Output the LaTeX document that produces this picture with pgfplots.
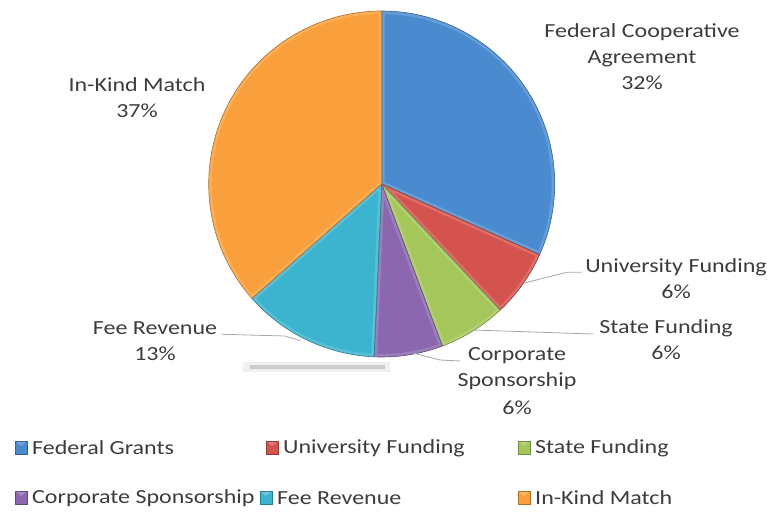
\documentclass[border=0pt]{standalone}
\usepackage{pgfplots}
\usepackage{pgfplotstable}
\pgfplotsset{compat=1.18}
\usepackage{fontspec}
\setmainfont{Carlito}[FakeStretch=1.2]
\definecolor{c0}{HTML}{4A8BD0}
\definecolor{c1}{HTML}{D4534E}
\definecolor{c2}{HTML}{A4C65A}
\definecolor{c3}{HTML}{8A67AE}
\definecolor{c4}{HTML}{3CB4CF}
\definecolor{c5}{HTML}{F9A03C}
\definecolor{txt}{HTML}{3C3C3C}
\definecolor{lead}{HTML}{A6A6A6}
\pgfplotstableread{
name value
Federal 31.7
University 6.3
State 6.3
Corporate 6.4
Fee 12.8
InKind 36.5
}\piedata
\newcommand\legitem[4]{%
  \fill[#1, draw=#1!70!black, line width=0.5pt] (axis cs:#2,#3-6.5) rectangle (axis cs:#2+12,#3+6.5);
  \fill[#1!60!white, opacity=0.6] (axis cs:#2+1,#3+6) -- (axis cs:#2+11,#3+6) -- (axis cs:#2+6,#3+2) -- cycle;
  \node[text=txt, anchor=west, inner sep=0pt, font=\fontsize{20}{24}\selectfont] at (axis cs:#2+17,#3) {#4};
}
\begin{document}
\begin{tikzpicture}
\begin{axis}[x=1pt,y=1pt,xmin=0,xmax=767,ymin=0,ymax=512,hide axis,clip=false,scale only axis]
\path[use as bounding box] (axis cs:0,0) rectangle (axis cs:767,512);
% shadow
\fill[gray!12] (axis cs:243,140) rectangle (axis cs:390,150);
\fill[gray!40] (axis cs:250,143) rectangle (axis cs:385,147);
% slices
\gdef\cum{90}
\pgfplotsforeachungrouped \i in {0,...,5}{%
  \pgfplotstablegetelem{\i}{value}\of\piedata
  \pgfmathsetmacro\a{\cum}%
  \pgfmathsetmacro\b{\cum-3.6*\pgfplotsretval}%
  \edef\cmd{%
    \noexpand\fill[c\i] (axis cs:381.7,328) -- (axis cs:{381.7+173*cos(\a)},{328+173*sin(\a)}) arc[start angle=\a, end angle=\b, radius=173pt] -- cycle;
    \noexpand\begin{scope}
    \noexpand\clip (axis cs:381.7,328) -- (axis cs:{381.7+173*cos(\a)},{328+173*sin(\a)}) arc[start angle=\a, end angle=\b, radius=173pt] -- cycle;
    \noexpand\draw[c\i!65!white, opacity=0.45, line width=6pt, line join=round] (axis cs:381.7,328) -- (axis cs:{381.7+173*cos(\a)},{328+173*sin(\a)}) arc[start angle=\a, end angle=\b, radius=173pt] -- cycle;
    \noexpand\end{scope}
    \noexpand\draw[c\i!70!black, line width=0.6pt, line join=round] (axis cs:381.7,328) -- (axis cs:{381.7+173*cos(\a)},{328+173*sin(\a)}) arc[start angle=\a, end angle=\b, radius=173pt] -- cycle;
  }%
  \cmd
  \xdef\cum{\b}%
}
% leader lines
\draw[lead, line width=0.8pt] (axis cs:523.3,228.7) -- (axis cs:566.7,239.7) -- (axis cs:581.7,239.7);
\draw[lead, line width=0.8pt] (axis cs:473,182) -- (axis cs:593,178);
\draw[lead, line width=0.8pt] (axis cs:413,159) -- (axis cs:440,152) -- (axis cs:460,151);
\draw[lead, line width=0.8pt] (axis cs:300,171.3) -- (axis cs:285,176) -- (axis cs:222,177.7);
% labels
\node[text=txt, align=center, font=\fontsize{20}{26}\selectfont] at (axis cs:642,455) {Federal Cooperative\\Agreement\\32\%};
\node[text=txt, align=center, font=\fontsize{20}{26}\selectfont] at (axis cs:137,414) {In-Kind Match\\37\%};
\node[text=txt, align=center, font=\fontsize{20}{26}\selectfont] at (axis cs:676,233) {University Funding\\6\%};
\node[text=txt, align=center, font=\fontsize{20}{26}\selectfont] at (axis cs:666,172) {State Funding\\6\%};
\node[text=txt, align=center, font=\fontsize{20}{26}\selectfont] at (axis cs:517,131) {Corporate\\Sponsorship\\[2pt]6\%};
\node[text=txt, align=center, font=\fontsize{20}{26}\selectfont] at (axis cs:155,171) {Fee Revenue\\13\%};
% legend
\legitem{c0}{15}{64}{Federal Grants}
\legitem{c1}{266}{64}{University Funding}
\legitem{c2}{518}{64}{State Funding}
\legitem{c3}{15}{14}{Corporate Sponsorship}
\legitem{c4}{260}{14}{Fee Revenue}
\legitem{c5}{518}{14}{In-Kind Match}
\end{axis}
\end{tikzpicture}
\end{document}
